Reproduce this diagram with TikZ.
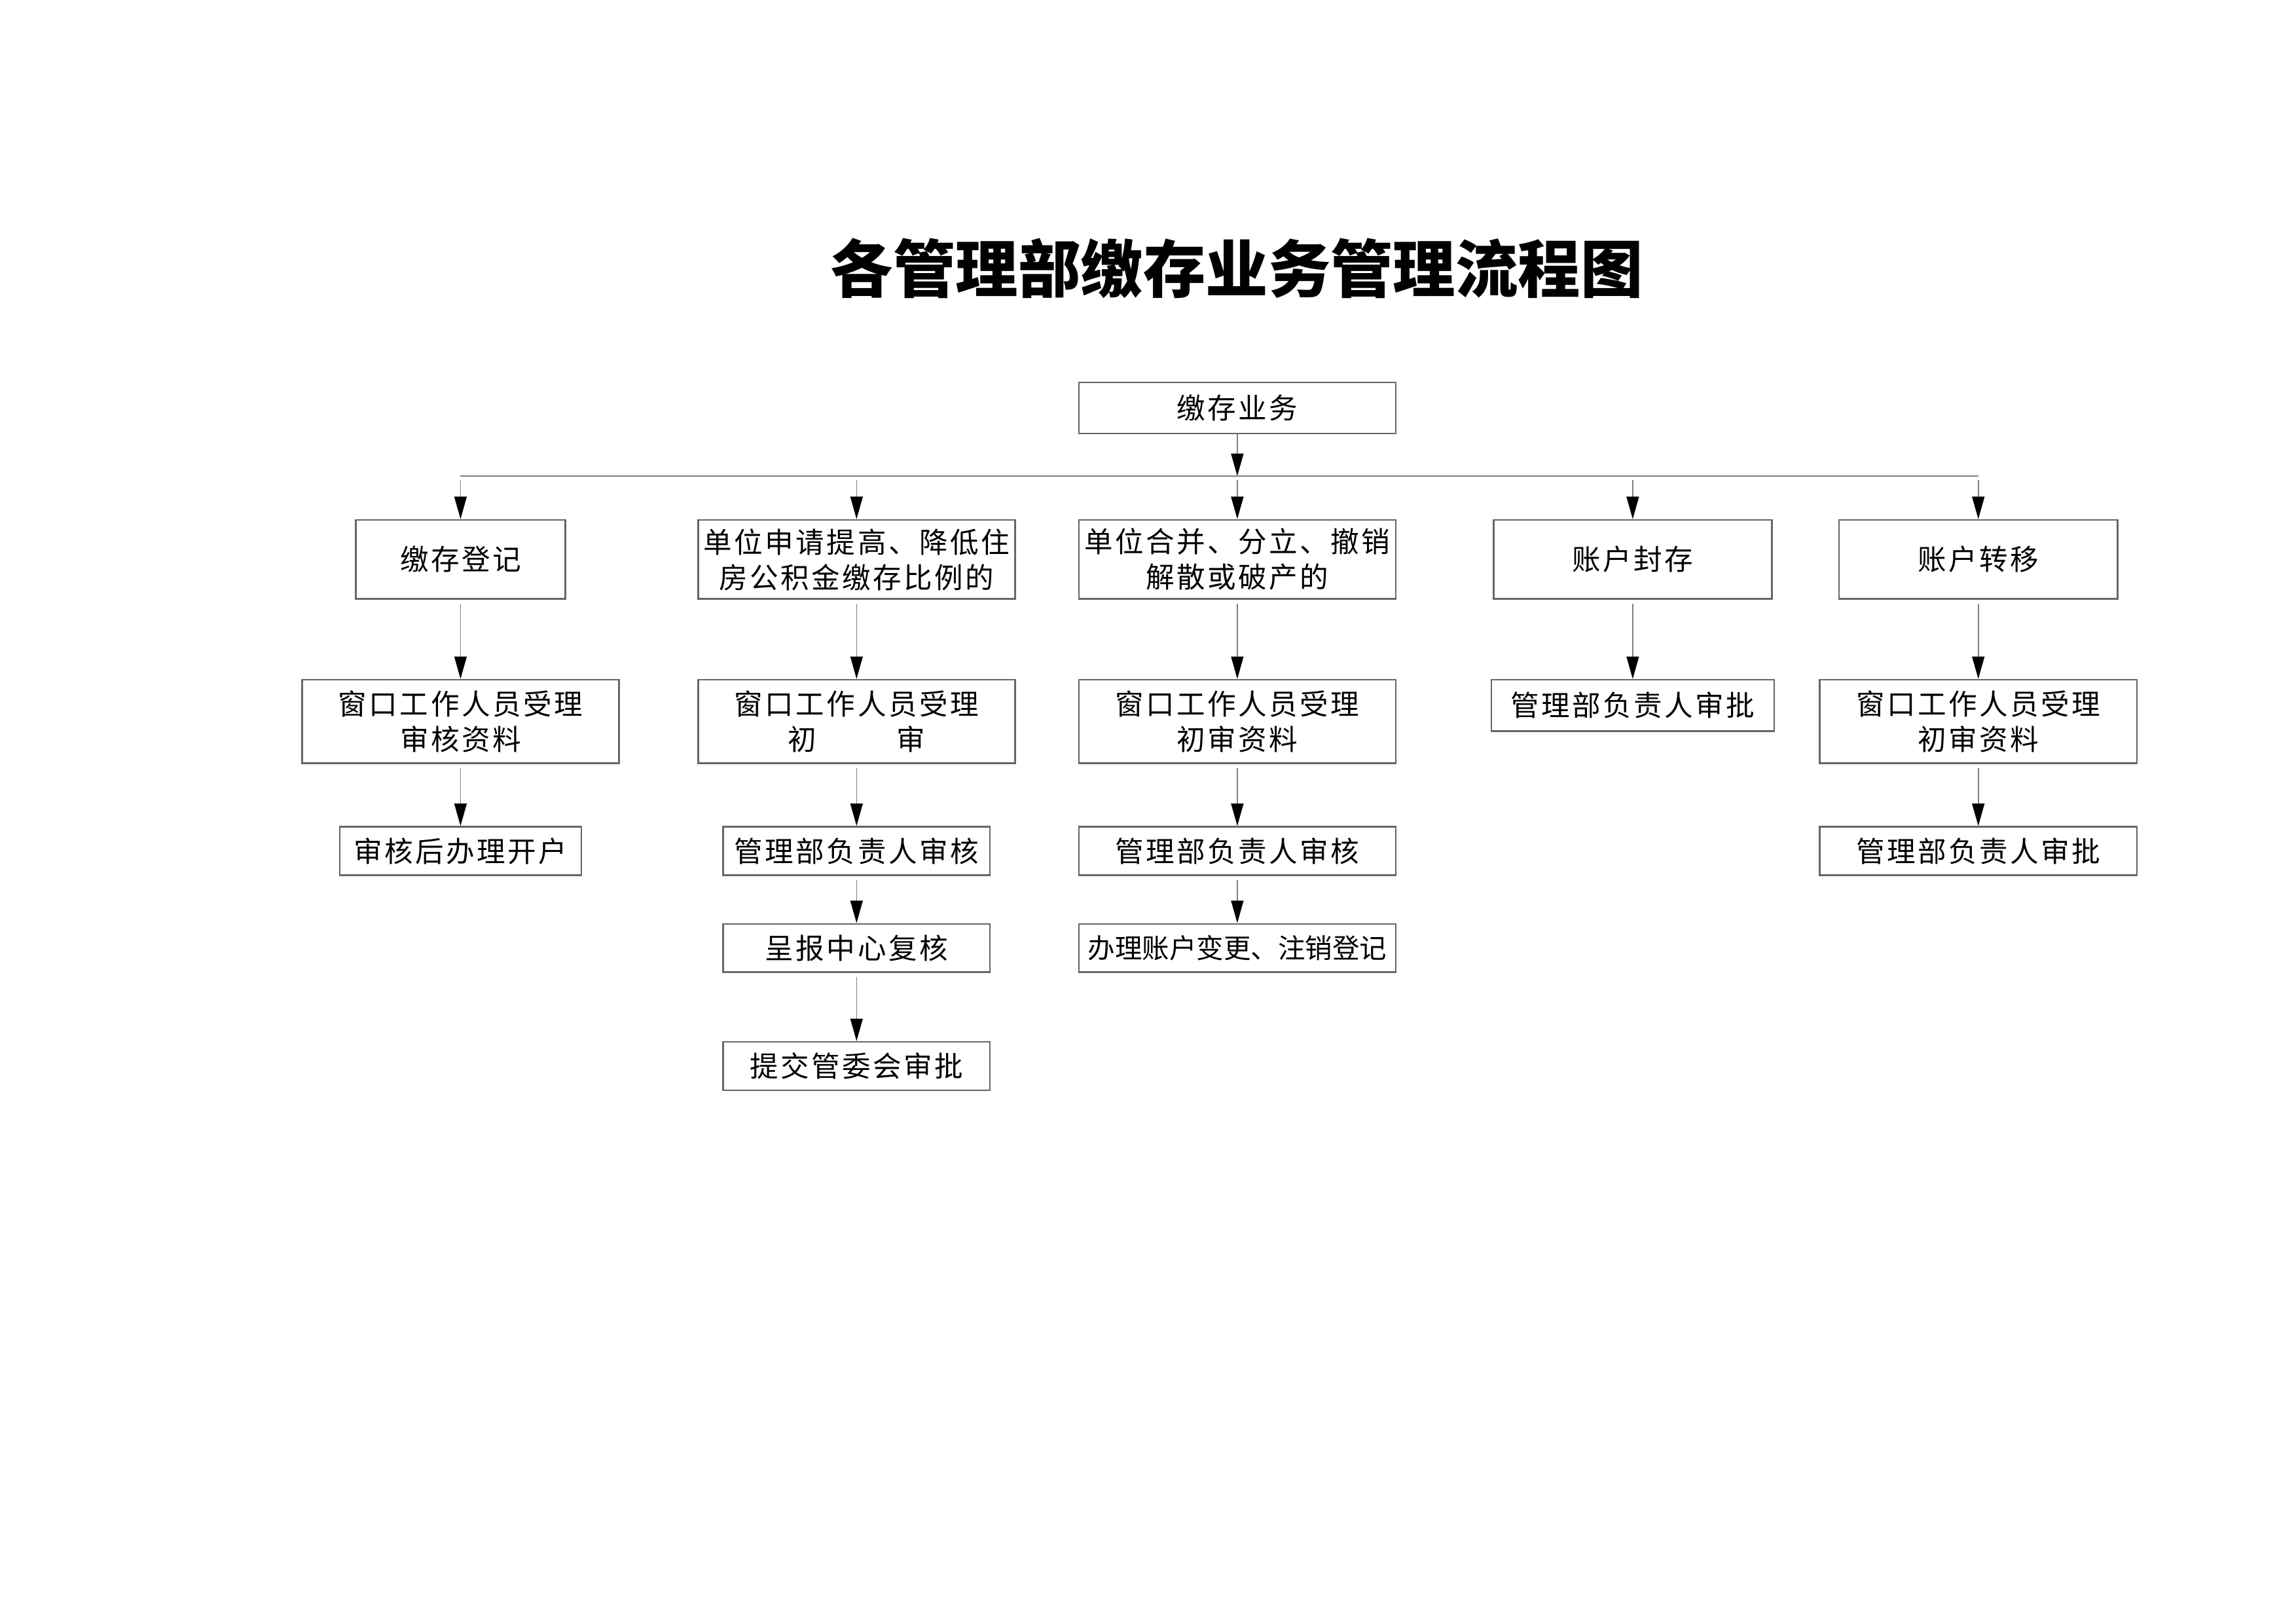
\documentclass[tikz,border=0pt]{standalone}
\usepackage{fontspec}
\newfontfamily\cjk[LetterSpace=8]{Noto Sans CJK SC}
\newfontfamily\cjkplain{Noto Sans CJK SC}
\usetikzlibrary{arrows.meta,positioning}

\begin{document}
\begin{tikzpicture}[
  box/.style={rectangle, draw=black!60, line width=0.6pt, inner sep=1pt,
              minimum height=0.625cm, align=center,
              font=\cjk\fontsize{10.5}{13}\selectfont},
  wbox/.style={box, minimum width=4.1cm},
  arr/.style={-{Triangle[length=2.9mm,width=1.6mm,color=black]},
              draw=black!50, line width=0.4pt, shorten <=1.5pt},
  bus/.style={draw=black!50, line width=0.6pt},
]
  \useasboundingbox (0,0) rectangle (29.7,-21);

  % Title
  \node[font=\cjkplain\bfseries\fontsize{23}{26}\selectfont] (title) at (16.0,-3.47)
    {各管理部缴存业务管理流程图};

  % Top
  \node[wbox, minimum height=0.663cm] (biz) at (16.005,-5.275) {缴存业务};
  \coordinate (busy) at (16.005,-6.156);

  % Row 1
  \node[box, minimum width=2.71cm, minimum height=1.023cm] (reg) at (5.957,-7.235) {缴存登记};
  \node[wbox, minimum height=1.023cm] (ratio) at (11.08,-7.235)
    {单位申请提高、降低住\\房公积金缴存比例的};
  \node[wbox, minimum height=1.023cm] (merge) at (16.005,-7.235)
    {单位合并、分立、撤销\\解散或破产的};
  \node[box, minimum width=3.6cm, minimum height=1.023cm] (seal) at (21.12,-7.235) {账户封存};
  \node[box, minimum width=3.6cm, minimum height=1.023cm] (move) at (25.59,-7.235) {账户转移};

  % Row 2
  \node[wbox, minimum height=1.08cm, below=1.023cm of reg] (regacc)
    {窗口工作人员受理\\审核资料};
  \node[wbox, minimum height=1.08cm, below=1.023cm of ratio] (ratioacc)
    {窗口工作人员受理\\初\hspace{2.8em}审};
  \node[wbox, minimum height=1.08cm, below=1.023cm of merge] (mergeacc)
    {窗口工作人员受理\\初审资料};
  \node[box, minimum width=3.66cm, minimum height=0.663cm, below=1.023cm of seal] (sealok)
    {管理部负责人审批};
  \node[wbox, minimum height=1.08cm, below=1.023cm of move] (moveacc)
    {窗口工作人员受理\\初审资料};

  % Row 3
  \node[box, minimum width=3.125cm, below=0.8cm of regacc] (regopen) {审核后办理开户};
  \node[box, minimum width=3.45cm, below=0.8cm of ratioacc] (ratiochk) {管理部负责人审核};
  \node[wbox, below=0.8cm of mergeacc] (mergechk) {管理部负责人审核};
  \node[wbox, below=0.8cm of moveacc] (moveok) {管理部负责人审批};

  % Row 4 and 5
  \node[box, minimum width=3.45cm, below=0.61cm of ratiochk] (ratiorpt) {呈报中心复核};
  \node[wbox, font=\cjkplain\fontsize{10}{12}\selectfont, below=0.61cm of mergechk] (mergereg)
    {办理账户变更、注销登记};
  \node[box, minimum width=3.45cm, below=0.88cm of ratiorpt] (ratiosub) {提交管委会审批};

  % Bus
  \draw[arr, shorten <=0pt] (biz) -- (busy);
  \draw[bus] (reg |- busy) -- (move |- busy);
  \foreach \n in {reg,ratio,merge,seal,move}
    \draw[arr] (\n |- busy) -- (\n);

  % Arrows
  \draw[arr] (reg) -- (regacc);
  \draw[arr] (regacc) -- (regopen);
  \draw[arr] (ratio) -- (ratioacc);
  \draw[arr] (ratioacc) -- (ratiochk);
  \draw[arr] (ratiochk) -- (ratiorpt);
  \draw[arr] (ratiorpt) -- (ratiosub);
  \draw[arr] (merge) -- (mergeacc);
  \draw[arr] (mergeacc) -- (mergechk);
  \draw[arr] (mergechk) -- (mergereg);
  \draw[arr] (seal) -- (sealok);
  \draw[arr] (move) -- (moveacc);
  \draw[arr] (moveacc) -- (moveok);
\end{tikzpicture}
\end{document}
